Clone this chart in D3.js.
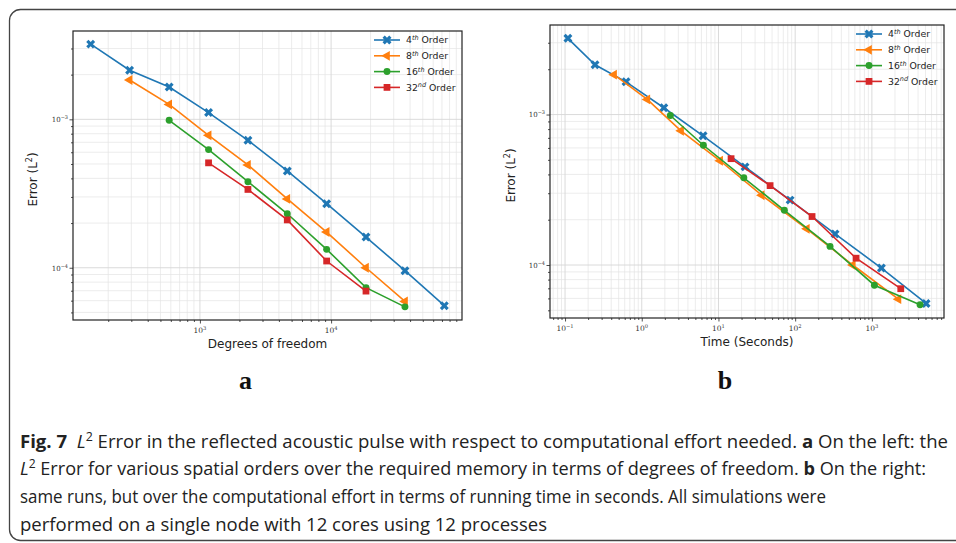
<!DOCTYPE html>
<html>
<head>
<meta charset="utf-8">
<script src="https://cdn.jsdelivr.net/npm/d3@7"></script>
<style>
  body { margin: 0; background: #fff; }
  svg { display: block; }
</style>
</head>
<body>
<svg id="canvas" width="956" height="543"></svg>
<script>
"use strict"

// legend labels
const orderNumbers = [4, 8, 16, 32]
const orderSuffixes = ["th", "th", "th", "nd"]

// degrees of freedom (x of panel a)
const dof4 = [147, 291, 583, 1164, 2323, 4634, 9247, 18450, 36560, 72950]
const dof8 = [291, 583, 1164, 2323, 4634, 9247, 18450, 36560]
const dof16 = [583, 1164, 2323, 4634, 9247, 18450, 36560]
const dof32 = [1164, 2323, 4634, 9247, 18450]

// running time in seconds (x of panel b)
const time4 = [0.109, 0.246, 0.624, 1.94, 6.3, 22.2, 85.9, 331, 1331, 5090]
const time8 = [0.435, 1.18, 3.25, 10.5, 36.6, 141.6, 563, 2218]
const time16 = [2.36, 6.36, 21.4, 72.3, 285, 1079, 4250]
const time32 = [14.6, 47.1, 166, 622, 2380]

// L2 error (y of both panels)
const err4 = [3.21e-3, 2.14e-3, 1.65e-3, 1.11e-3, 7.22e-4, 4.49e-4, 2.70e-4, 1.61e-4, 9.55e-5, 5.55e-5]
const err8 = [1.84e-3, 1.26e-3, 7.80e-4, 4.93e-4, 2.91e-4, 1.74e-4, 1.00e-4, 5.93e-5]
const err16 = [9.85e-4, 6.25e-4, 3.80e-4, 2.31e-4, 1.33e-4, 7.34e-5, 5.45e-5]
const err32 = [5.09e-4, 3.37e-4, 2.10e-4, 1.11e-4, 6.96e-5]

const xLabels = ["Degrees of freedom", "Time (Seconds)"]
const panelLetters = ["a", "b"]

const colors = ["#1f77b4", "#ff7f0e", "#2ca02c", "#d62728"]

function chart() {
  const svg = d3.select("#canvas")

  const panels = [
    { xs: [dof4, dof8, dof16, dof32], left: 73, right: 462, top: 31, bottom: 320, ylabelX: 37 },
    { xs: [time4, time8, time16, time32], left: 550, right: 944, top: 25, bottom: 318, ylabelX: 515 },
  ]
  const errs = [err4, err8, err16, err32]

  // same look as matplotlib: 5% margin in log space
  function padLog(values) {
    const ext = d3.extent(values)
    const lo = Math.log10(ext[0]), hi = Math.log10(ext[1])
    const m = (hi - lo) * 0.05
    return [Math.pow(10, lo - m), Math.pow(10, hi + m)]
  }

  function logTicks(domain) {
    const major = [], minor = []
    const k0 = Math.floor(Math.log10(domain[0])), k1 = Math.ceil(Math.log10(domain[1]))
    for (let k = k0; k <= k1; k++) {
      for (let m = 1; m < 10; m++) {
        const v = m * Math.pow(10, k)
        if (v < domain[0] || v > domain[1]) continue
        if (m === 1) major.push(v)
        else minor.push(v)
      }
    }
    return { major, minor }
  }

  function markerPath(i) {
    if (i === 0) return d3.symbol(d3.symbolCross, 50)()
    if (i === 1) return d3.symbol(d3.symbolTriangle, 42)()
    if (i === 2) return d3.symbol(d3.symbolCircle, 38)()
    return d3.symbol(d3.symbolSquare, 46)()
  }
  const markerRotate = [45, -90, 0, 0]

  function powerLabel(sel, exp, big, small) {
    sel.append("tspan").attr("font-size", big).text("10")
    sel.append("tspan").attr("font-size", small).attr("dy", -big * 0.42).text(exp < 0 ? "\u2212" + (-exp) : exp)
  }

  panels.forEach((p, pi) => {
    const allX = [].concat(...p.xs)
    const allY = [].concat(...errs)
    const x = d3.scaleLog().domain(padLog(allX)).range([p.left, p.right])
    const y = d3.scaleLog().domain(padLog(allY)).range([p.bottom, p.top])
    const xt = logTicks(x.domain())
    const yt = logTicks(y.domain())

    const g = svg.append("g")

    // grid
    const grid = g.append("g")
    grid.selectAll(".gxm").data(xt.minor).enter().append("line")
      .attr("x1", d => x(d)).attr("x2", d => x(d))
      .attr("y1", p.top).attr("y2", p.bottom)
      .attr("stroke", "#e4e4e4").attr("stroke-width", 0.7)
    grid.selectAll(".gym").data(yt.minor).enter().append("line")
      .attr("y1", d => y(d)).attr("y2", d => y(d))
      .attr("x1", p.left).attr("x2", p.right)
      .attr("stroke", "#e4e4e4").attr("stroke-width", 0.7)
    grid.selectAll(".gxM").data(xt.major).enter().append("line")
      .attr("x1", d => x(d)).attr("x2", d => x(d))
      .attr("y1", p.top).attr("y2", p.bottom)
      .attr("stroke", "#d6d6d6").attr("stroke-width", 0.9)
    grid.selectAll(".gyM").data(yt.major).enter().append("line")
      .attr("y1", d => y(d)).attr("y2", d => y(d))
      .attr("x1", p.left).attr("x2", p.right)
      .attr("stroke", "#d6d6d6").attr("stroke-width", 0.9)

    // axes
    const axMinorX = d3.axisBottom(x).tickValues(xt.minor).tickSize(2).tickFormat(() => "")
    const axMajorX = d3.axisBottom(x).tickValues(xt.major).tickSize(3.5).tickFormat(() => "")
    const axMinorY = d3.axisLeft(y).tickValues(yt.minor).tickSize(2).tickFormat(() => "")
    const axMajorY = d3.axisLeft(y).tickValues(yt.major).tickSize(3.5).tickFormat(() => "")
    ;[axMinorX, axMajorX].forEach(ax => {
      g.append("g").attr("transform", `translate(0,${p.bottom})`).call(ax)
        .call(s => s.select(".domain").remove())
        .selectAll("line").attr("stroke", "#222").attr("stroke-width", 0.8)
    })
    ;[axMinorY, axMajorY].forEach(ax => {
      g.append("g").attr("transform", `translate(${p.left},0)`).call(ax)
        .call(s => s.select(".domain").remove())
        .selectAll("line").attr("stroke", "#222").attr("stroke-width", 0.8)
    })

    // tick labels
    xt.major.forEach(v => {
      const t = g.append("text")
        .attr("x", x(v)).attr("y", p.bottom + 13)
        .attr("text-anchor", "middle")
        .attr("font-family", "DejaVu Serif, serif").attr("fill", "#333")
      powerLabel(t, Math.round(Math.log10(v)), 7.5, 5.2)
    })
    yt.major.forEach(v => {
      const t = g.append("text")
        .attr("x", p.left - 5).attr("y", y(v) + 2.8)
        .attr("text-anchor", "end")
        .attr("font-family", "DejaVu Serif, serif").attr("fill", "#333")
      powerLabel(t, Math.round(Math.log10(v)), 7, 5)
    })

    // frame
    g.append("rect")
      .attr("x", p.left).attr("y", p.top)
      .attr("width", p.right - p.left).attr("height", p.bottom - p.top)
      .attr("fill", "none").attr("stroke", "#222").attr("stroke-width", 1.2)

    // series
    const line = d3.line().x(d => x(d[0])).y(d => y(d[1]))
    p.xs.forEach((xs, i) => {
      const pts = xs.map((v, j) => [v, errs[i][j]])
      g.append("path").datum(pts).attr("d", line)
        .attr("fill", "none").attr("stroke", colors[i]).attr("stroke-width", 1.6)
      g.append("g").selectAll("path").data(pts).enter().append("path")
        .attr("d", markerPath(i))
        .attr("transform", d => `translate(${x(d[0])},${y(d[1])}) rotate(${markerRotate[i]})`)
        .attr("fill", colors[i])
    })

    // legend
    const lx = p.right - 88, ly = p.top + 9
    orderNumbers.forEach((n, i) => {
      const yy = ly + i * 15.8
      g.append("line").attr("x1", lx).attr("x2", lx + 26).attr("y1", yy).attr("y2", yy)
        .attr("stroke", colors[i]).attr("stroke-width", 1.6)
      g.append("path").attr("d", markerPath(i))
        .attr("transform", `translate(${lx + 13},${yy}) rotate(${markerRotate[i]})`)
        .attr("fill", colors[i])
      const t = g.append("text").attr("x", lx + 32).attr("y", yy + 3.4)
        .attr("font-family", "DejaVu Sans, sans-serif").attr("font-size", 9.3).attr("fill", "#222")
      t.append("tspan").text(n)
      t.append("tspan").attr("font-size", 6.5).attr("font-style", "italic").attr("dy", -3.5).text(orderSuffixes[i])
      t.append("tspan").attr("dy", 3.5).text(" Order")
    })

    // axis labels
    g.append("text")
      .attr("x", (p.left + p.right) / 2).attr("y", p.bottom + 28)
      .attr("text-anchor", "middle")
      .attr("font-family", "DejaVu Sans, sans-serif").attr("font-size", 12).attr("fill", "#222")
      .text(xLabels[pi])
    const yl = g.append("text")
      .attr("transform", `translate(${p.ylabelX},${(p.top + p.bottom) / 2 + 4}) rotate(-90)`)
      .attr("text-anchor", "middle")
      .attr("font-family", "DejaVu Sans, sans-serif").attr("font-size", 12).attr("fill", "#222")
    yl.append("tspan").text("Error (L")
    yl.append("tspan").attr("font-size", 8).attr("dy", -5).text("2")
    yl.append("tspan").attr("dy", 5).text(")")

    // panel letter
    svg.append("text")
      .attr("x", (p.left + p.right) / 2 - 22).attr("y", 389)
      .attr("text-anchor", "middle")
      .attr("font-family", "Liberation Serif, serif").attr("font-weight", "bold")
      .attr("font-size", 26).attr("fill", "#111")
      .text(panelLetters[pi])
  })

  // outer box
  svg.append("rect")
    .attr("x", 9.5).attr("y", 9.5).attr("width", 980).attr("height", 531)
    .attr("rx", 11).attr("fill", "none").attr("stroke", "#444").attr("stroke-width", 1.3)

  // caption
  const cap = svg.append("g").attr("font-family", "Open Sans, sans-serif").attr("font-size", 18).attr("fill", "#222")
  function capLine(yy, width, parts) {
    const t = cap.append("text").attr("x", 20).attr("y", yy)
      .attr("textLength", width).attr("lengthAdjust", "spacingAndGlyphs")
    parts.forEach(pt => {
      const s = t.append("tspan").text(pt.t)
      if (pt.b) s.attr("font-weight", "bold")
      if (pt.i) s.attr("font-style", "italic")
      if (pt.sup) s.attr("font-size", 12).attr("dy", -7)
      if (pt.down) s.attr("dy", 7)
    })
  }
  capLine(448, 928, [
    { t: "Fig. 7", b: true }, { t: "\u00a0\u00a0" }, { t: "L", i: true }, { t: "2", sup: true },
    { t: " Error in the reflected acoustic pulse with respect to computational effort needed. ", down: true },
    { t: "a", b: true }, { t: " On the left: the" },
  ])
  capLine(475, 906, [
    { t: "L", i: true }, { t: "2", sup: true },
    { t: " Error for various spatial orders over the required memory in terms of degrees of freedom. ", down: true },
    { t: "b", b: true }, { t: " On the right:" },
  ])
  capLine(503, 806, [{ t: "same runs, but over the computational effort in terms of running time in seconds. All simulations were" }])
  capLine(531, 527, [{ t: "performed on a single node with 12 cores using 12 processes" }])
}

chart()
</script>
</body>
</html>
